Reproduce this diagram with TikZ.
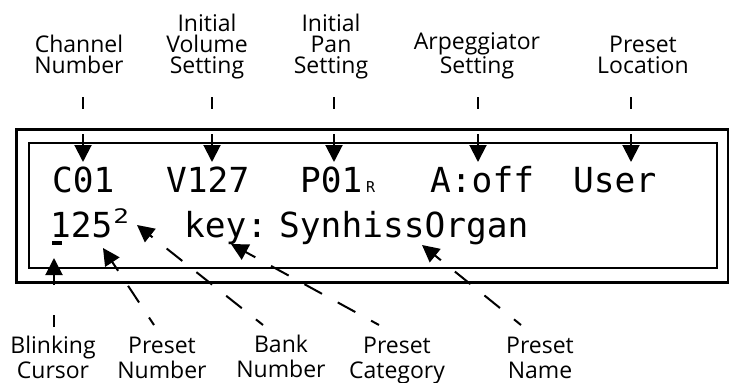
\documentclass[tikz,border=0pt]{standalone}
\usepackage{fontspec}
\setmainfont{Open Sans}
\newfontfamily\lcdfont{DejaVu Sans Mono}
\usetikzlibrary{arrows.meta}
\begin{document}
\begin{tikzpicture}[x=1pt,y=-1pt,
  toplbl/.style={font=\fontsize{23}{21}\selectfont, align=center, inner sep=0pt, anchor=base},
  botlbl/.style={font=\fontsize{23}{24.5}\selectfont, align=center, inner sep=0pt, anchor=base},
  lcd/.style={font=\lcdfont\fontsize{34.5}{40}\selectfont, inner sep=0pt, anchor=base west},
  lcdsmall/.style={font=\lcdfont\fontsize{15}{18}\selectfont, inner sep=0pt, anchor=base west},
  lcdsup/.style={font=\lcdfont\fontsize{20}{22}\selectfont, inner sep=0pt, anchor=base west, xscale=1.3},
  conn/.style={line width=2pt, -{Triangle[length=17pt,width=17pt]}},
  topconn/.style={conn, dash pattern=on 12pt off 25pt on 100pt off 1pt},
  curconn/.style={conn, dash pattern=on 12pt off 30pt on 100pt off 1pt},
  diagconn/.style={conn, dash pattern=on 20pt off 18pt, dash phase=11pt}
]
\useasboundingbox (0,0) rectangle (729,383);
% display frame
\draw[line width=3pt] (16,129) rectangle (728,282);
\draw[line width=2.5pt] (29,143) rectangle (717,268);

% LCD text
\node[lcd] (c01) at (52,192) {C01};
\node[lcd] (v127) at (166,192) {V127};
\node[lcd] (p01) at (300,192) {P01};
\node[lcdsmall] (pr) at (366,192) {R};
\node[lcd] (aoff) at (430,192) {A:off};
\node[lcd] (user) at (573,192) {User};
\node[lcd] (num) at (50,237) {125};
\node[lcdsup] (bank) at (113,223) {2};
\node[lcd] (cat) at (184,237) {key:};
\node[lcd] (name) at (279,237) {SynhissOrgan};
\draw[line width=3.5pt] (52,243) -- (62,243);

% top labels
\node[toplbl] (lch) at (79,73) {Channel\\Number};
\node[toplbl] (lvol) at (207,73) {Initial\\Volume\\Setting};
\node[toplbl] (lpan) at (331,73) {Initial\\Pan\\Setting};
\node[toplbl] (larp) at (477,73) {Arpeggiator\\Setting};
\node[toplbl] (lloc) at (643,73) {Preset\\Location};

% bottom labels
\node[botlbl] (lcur) at (53,378) {Blinking\\Cursor};
\node[botlbl] (lpnum) at (162,378) {Preset\\Number};
\node[botlbl] (lbank) at (281,377) {Bank\\Number};
\node[botlbl] (lcat) at (397,378) {Preset\\Category};
\node[botlbl] (lname) at (540,378) {Preset\\Name};

% top connectors
\coordinate (a1s) at (83,97);  \coordinate (a1e) at (83,162);
\coordinate (a2s) at (212,97); \coordinate (a2e) at (212,162);
\coordinate (a3s) at (334,97); \coordinate (a3e) at (334,162);
\coordinate (a4s) at (478,97); \coordinate (a4e) at (478,162);
\coordinate (a5s) at (631,97); \coordinate (a5e) at (631,162);
\draw[topconn] (a1s) -- (a1e);
\draw[topconn] (a2s) -- (a2e);
\draw[topconn] (a3s) -- (a3e);
\draw[topconn] (a4s) -- (a4e);
\draw[topconn] (a5s) -- (a5e);

% bottom connectors
\coordinate (b1s) at (54,327);  \coordinate (b1e) at (54,258);
\coordinate (b2s) at (154,325); \coordinate (b2e) at (103,248);
\coordinate (b3s) at (263,325); \coordinate (b3e) at (137,225);
\coordinate (b4s) at (379,325); \coordinate (b4e) at (231,244);
\coordinate (b5s) at (521,325); \coordinate (b5e) at (422,245);
\draw[curconn] (b1s) -- (b1e);
\draw[diagconn] (b2s) -- (b2e);
\draw[diagconn] (b3s) -- (b3e);
\draw[diagconn] (b4s) -- (b4e);
\draw[diagconn] (b5s) -- (b5e);
\end{tikzpicture}
\end{document}
